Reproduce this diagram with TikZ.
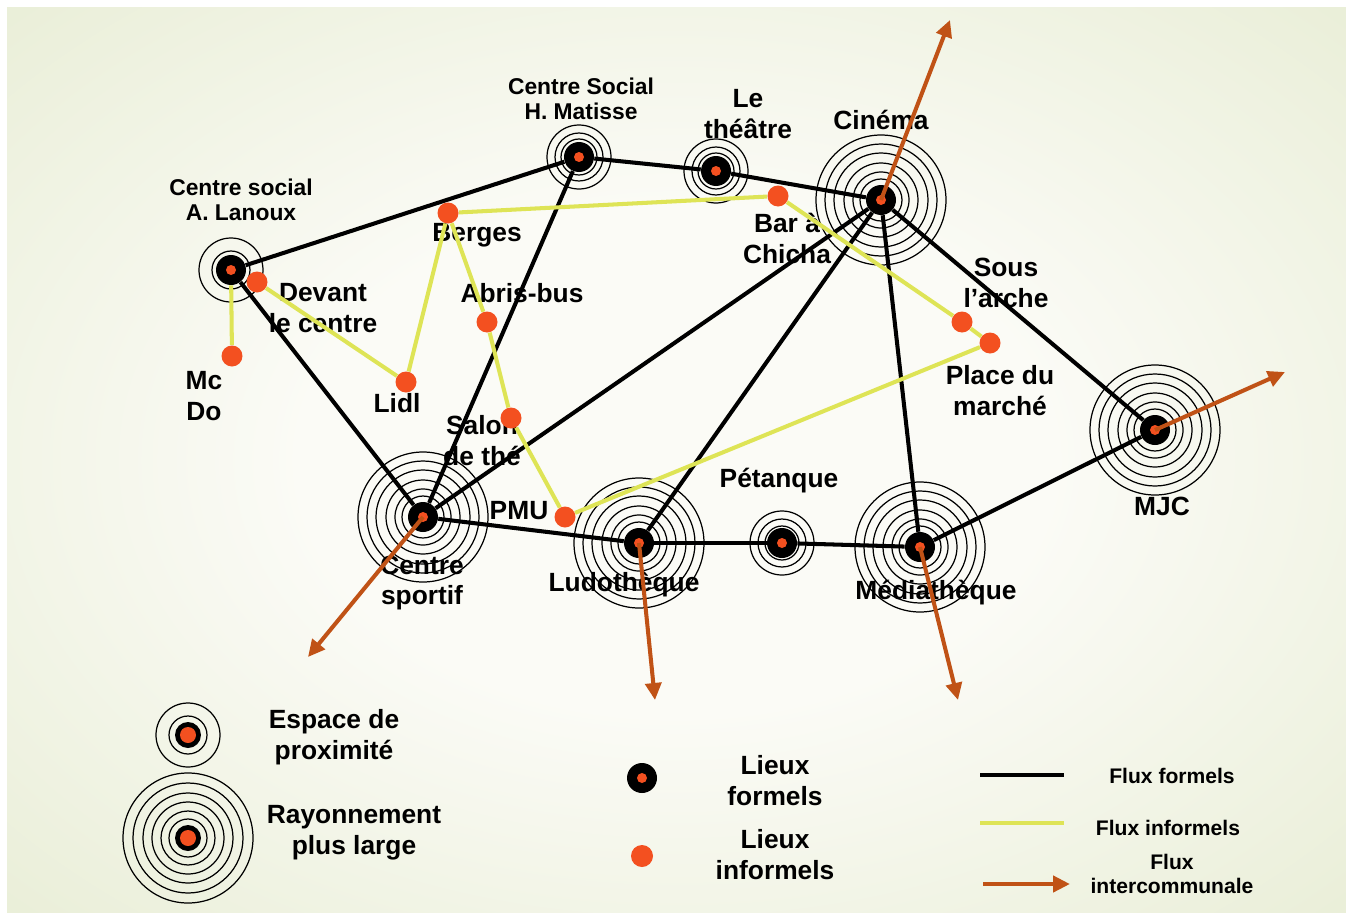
\documentclass[tikz,border=0pt]{standalone}
\usepackage{fontspec}
\setmainfont{Liberation Sans}
\usetikzlibrary{arrows.meta}

\definecolor{placeorange}{RGB}{243,80,32}
\definecolor{fluxyellow}{RGB}{222,228,86}
\definecolor{fluxbrown}{RGB}{192,82,22}
\definecolor{bginner}{RGB}{251,251,246}
\definecolor{bgouter}{RGB}{222,230,196}

\pgfdeclareradialshading{bgglow}{\pgfpoint{0bp}{0bp}}{color(0bp)=(bginner); color(14bp)=(bginner); color(50bp)=(bgouter)}

\pgfdeclarelayer{back}
\pgfdeclarelayer{rings}
\pgfdeclarelayer{flows}
\pgfsetlayers{back,rings,flows,main}

\tikzset{
  place/.style={circle, fill=black, inner sep=0pt, minimum size=0.6cm,
    path picture={\fill[placeorange] (path picture bounding box.center) circle (0.1cm);}},
  keyplace/.style={circle, fill=black, inner sep=0pt, minimum size=0.52cm,
    path picture={\fill[placeorange] (path picture bounding box.center) circle (0.16cm);}},
  spot/.style={circle, fill=placeorange, inner sep=0pt, minimum size=0.42cm},
  ring/.style={draw=black, line width=0.7pt},
  formalflow/.style={draw=black, line width=2.3pt},
  informalflow/.style={draw=fluxyellow, line width=2.3pt},
  interflow/.style={draw=fluxbrown, line width=2.3pt, -{Triangle[length=0.34cm, width=0.32cm]}},
  placelabel/.style={font=\bfseries\fontsize{15}{17.6}\selectfont, align=center, inner sep=0pt},
  centrelabel/.style={font=\bfseries\fontsize{13}{14.2}\selectfont, align=center, inner sep=0pt},
  fluxlabel/.style={font=\bfseries\fontsize{12}{13.7}\selectfont, align=center, inner sep=0pt},
}

\begin{document}
\begin{tikzpicture}[x=0.02cm, y=-0.02cm]
\useasboundingbox (0,0) rectangle (1346,913);
\begin{pgfonlayer}{back}
\shade[shading=bgglow] (7,7) rectangle (1346,913);
\end{pgfonlayer}

\node[place] (lanoux) at (231,270) {};
\node[place] (matisse) at (579,157) {};
\node[place] (theatre) at (716,171) {};
\node[place] (cinema) at (881,200) {};
\node[place] (sportif) at (423,517) {};
\node[place] (ludo) at (639,543) {};
\node[place] (petanque) at (782,543) {};
\node[place] (media) at (920,547) {};
\node[place] (mjc) at (1155,430) {};

\node[spot] (devant) at (257,282) {};
\node[spot] (mcdo) at (232,356) {};
\node[spot] (lidl) at (406,382) {};
\node[spot] (berges) at (448,213) {};
\node[spot] (abris) at (487,322) {};
\node[spot] (salon) at (511,418) {};
\node[spot] (pmu) at (565,517) {};
\node[spot] (chicha) at (778,196) {};
\node[spot] (arche) at (962,322) {};
\node[spot] (marche) at (990,343) {};

\node[keyplace] (smallkey) at (188,735) {};
\node[keyplace] (bigkey) at (188,838) {};
\node[place] (formalkey) at (642,778) {};
\node[spot, minimum size=0.44cm] (informalkey) at (642,856) {};

\begin{pgfonlayer}{rings}
\draw[ring] (lanoux.center) circle (19) circle (32);
\draw[ring] (matisse.center) circle (18) circle (24) circle (32);
\draw[ring] (theatre.center) circle (18) circle (24) circle (32);
\draw[ring] (petanque.center) circle (17) circle (24) circle (32);
\draw[ring] (cinema.center) circle (21) circle (28) circle (37) circle (47) circle (56) circle (65);
\draw[ring] (sportif.center) circle (21) circle (28) circle (37) circle (47) circle (56) circle (65);
\draw[ring] (ludo.center) circle (21) circle (28) circle (37) circle (47) circle (56) circle (65);
\draw[ring] (media.center) circle (21) circle (28) circle (37) circle (47) circle (56) circle (65);
\draw[ring] (mjc.center) circle (21) circle (28) circle (37) circle (47) circle (56) circle (65);
\draw[ring] (smallkey.center) circle (19) circle (32);
\draw[ring] (bigkey.center) circle (19) circle (27) circle (36) circle (45) circle (55) circle (65);

\node[centrelabel] (lanouxlabel) at (241,200) {Centre social\\A. Lanoux};
\node[centrelabel] (matisselabel) at (581,99) {Centre Social\\H. Matisse};
\node[placelabel] (theatrelabel) at (748,114) {Le\\théâtre};
\node[placelabel] (cinemalabel) at (881,120) {Cinéma};
\node[placelabel] (bergeslabel) at (477,235) {Berges};
\node[placelabel] (devantlabel) at (323,308) {Devant\\le centre};
\node[placelabel] (abrislabel) at (522,293) {Abris-bus};
\node[placelabel] (mcdolabel) at (204,396) {Mc\\Do};
\node[placelabel] (lidllabel) at (397,403) {Lidl};
\node[placelabel] (salonlabel) at (482,441) {Salon\\de thé};
\node[placelabel] (pmulabel) at (519,511) {PMU};
\node[placelabel] (chichalabel) at (787,238) {Bar à\\Chicha};
\node[placelabel] (archelabel) at (1006,283) {Sous\\l'arche};
\node[placelabel] (marchelabel) at (1000,391) {Place du\\marché};
\node[placelabel] (mjclabel) at (1162,506) {MJC};
\node[placelabel] (petanquelabel) at (779,481) {Pétanque};
\node[placelabel] (sportiflabel) at (422,583) {Centre\\sportif};
\node[placelabel] (ludolabel) at (624,585) {Ludothèque};
\node[placelabel] (medialabel) at (936,593) {Médiathèque};
\end{pgfonlayer}

\begin{pgfonlayer}{flows}
\draw[formalflow] (lanoux) -- (matisse);
\draw[formalflow] (lanoux) -- (sportif);
\draw[formalflow] (matisse) -- (theatre);
\draw[formalflow] (theatre) -- (cinema);
\draw[formalflow] (matisse) -- (sportif);
\draw[formalflow] (cinema) -- (sportif);
\draw[formalflow] (cinema) -- (ludo);
\draw[formalflow] (cinema) -- (media);
\draw[formalflow] (cinema) -- (mjc);
\draw[formalflow] (sportif) -- (ludo);
\draw[formalflow] (ludo) -- (petanque);
\draw[formalflow] (petanque) -- (media);
\draw[formalflow] (media) -- (mjc);
\draw[informalflow] (lanoux) -- (mcdo);
\draw[informalflow] (devant) -- (lidl);
\draw[informalflow] (lidl) -- (berges);
\draw[informalflow] (berges) -- (chicha);
\draw[informalflow] (berges) -- (abris);
\draw[informalflow] (abris) -- (salon);
\draw[informalflow] (salon) -- (pmu);
\draw[informalflow] (chicha) -- (arche);
\draw[informalflow] (arche) -- (marche);
\draw[informalflow] (marche) -- (pmu);
\end{pgfonlayer}

\coordinate (cinemaout) at (950,20);
\coordinate (mjcout) at (1285,372);
\coordinate (sportifout) at (308,657);
\coordinate (ludoout) at (655,700);
\coordinate (mediaout) at (958,700);
\draw[interflow] (cinema.center) -- (cinemaout);
\draw[interflow] (mjc.center) -- (mjcout);
\draw[interflow] (sportif.center) -- (sportifout);
\draw[interflow] (ludo.center) -- (ludoout);
\draw[interflow] (media.center) -- (mediaout);

\node[placelabel] (smallkeylabel) at (334,737) {Espace de\\proximité};
\node[placelabel] (bigkeylabel) at (354,833) {Rayonnement\\plus large};
\node[placelabel] (formalkeylabel) at (775,781) {Lieux\\formels};
\node[placelabel] (informalkeylabel) at (775,855) {Lieux\\informels};

\coordinate (formalkeya) at (980,775);
\coordinate (formalkeyb) at (1064,775);
\coordinate (informalkeya) at (980,823);
\coordinate (informalkeyb) at (1064,823);
\coordinate (interkeya) at (983,884);
\coordinate (interkeyb) at (1070,884);
\draw[formalflow, line width=2.8pt] (formalkeya) -- (formalkeyb);
\draw[informalflow, line width=2.8pt] (informalkeya) -- (informalkeyb);
\draw[interflow, line width=2.8pt] (interkeya) -- (interkeyb);
\node[fluxlabel] (formalfluxlabel) at (1172,776) {Flux formels};
\node[fluxlabel] (informalfluxlabel) at (1168,828) {Flux informels};
\node[fluxlabel] (interfluxlabel) at (1172,874) {Flux\\intercommunale};
\end{tikzpicture}
\end{document}
